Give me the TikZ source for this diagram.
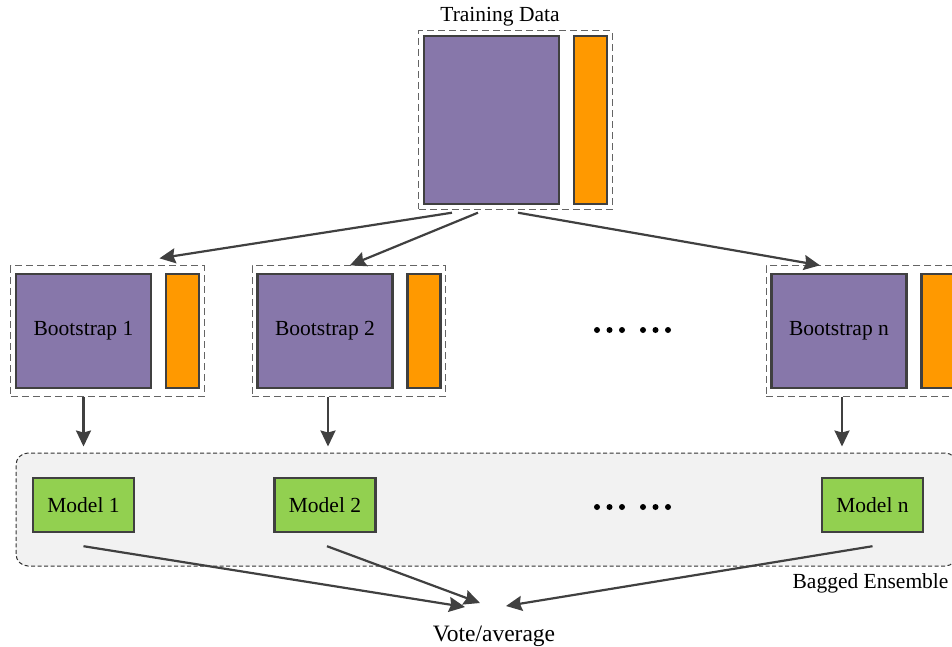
\documentclass[tikz,border=0pt]{standalone}
\usepackage{fontspec}
\setmainfont{Liberation Serif}
\usepackage{xcolor}
\usetikzlibrary{arrows.meta, positioning, fit, calc}
\definecolor{bagpurple}{RGB}{135,119,170}
\definecolor{bagorange}{RGB}{255,153,0}
\definecolor{baggreen}{RGB}{146,208,80}
\definecolor{edgegray}{RGB}{64,64,64}
\definecolor{dashgray}{RGB}{100,100,100}
\definecolor{panelgray}{RGB}{242,242,242}
\tikzstyle{features} = [rectangle, draw=edgegray, line width=2.4pt, fill=bagpurple, inner sep=0pt, minimum width=135pt, font=\fontsize{21.5}{25}\selectfont]
\tikzstyle{target} = [rectangle, draw=edgegray, line width=2.4pt, fill=bagorange, inner sep=0pt, minimum width=33pt]
\tikzstyle{model} = [rectangle, draw=edgegray, line width=2.4pt, fill=baggreen, inner sep=0pt, minimum width=101pt, minimum height=54pt, font=\fontsize{21.5}{25}\selectfont]
\tikzstyle{sample} = [rectangle, draw=dashgray, line width=1pt, dash pattern=on 7pt off 4pt, inner sep=4pt]
\tikzstyle{ensemble} = [rectangle, rounded corners=12pt, draw=black!80, line width=1pt, dash pattern=on 4pt off 2.5pt, fill=panelgray]
\tikzstyle{captext} = [font=\fontsize{21.5}{25}\selectfont]
\tikzstyle{arrow} = [line width=2.2pt, draw=edgegray, -{Stealth[length=16pt, width=15pt, inset=2pt]}]

\begin{document}
\begin{tikzpicture}[x=1pt, y=-1pt]
    \useasboundingbox (0,0) rectangle (952,646);

    % Training data
    \node[features, minimum height=168pt] (tdX) at (491.5,120) {};
    \node[target, minimum height=168pt, right=12.5pt of tdX] (tdY) {};
    \node[sample, fit=(tdX)(tdY)] (tdBox) {};
    \node[captext] (tdTitle) at (500,17) {Training Data};

    % Bootstrap samples
    \node[features, minimum height=114pt] (b1X) at (83.5,331) {Bootstrap 1};
    \node[target, minimum height=114pt, right=12.5pt of b1X] (b1Y) {};
    \node[sample, inner ysep=7pt, fit=(b1X)(b1Y)] (b1Box) {};

    \node[features, minimum height=114pt] (b2X) at (325,331) {Bootstrap 2};
    \node[target, minimum height=114pt, right=12.5pt of b2X] (b2Y) {};
    \node[sample, inner ysep=7pt, fit=(b2X)(b2Y)] (b2Box) {};

    \node[features, minimum height=114pt] (bnX) at (839,331) {Bootstrap n};
    \node[target, minimum height=114pt, right=12.5pt of bnX] (bnY) {};
    \node[sample, inner ysep=7pt, fit=(bnX)(bnY)] (bnBox) {};

    % Ensemble
    \node[ensemble, minimum width=941pt, minimum height=113pt] (ens) at (486.5,509.5) {};
    \node[captext, anchor=east] (ensTitle) at (952,583) {Bagged Ensemble};

    \node[model] (m1) at (83.5,505) {Model 1};
    \node[model] (m2) at (325,505) {Model 2};
    \node[model] (mn) at (872.5,505) {Model n};

    % Dots
    \foreach \dx in {0,12.5,25,46,58.5,71} {
        \fill (597+\dx,330) circle (3pt);
        \fill (597+\dx,507) circle (3pt);
    }

    % Vote
    \node[captext, font=\fontsize{23.5}{27}\selectfont] (vote) at (494,636) {Vote/average};
    \coordinate (vA) at (465,607);
    \coordinate (vB) at (480,603);
    \coordinate (vC) at (506,606);

    % Connections
    \draw[arrow] ([xshift=-63.5pt,yshift=-3pt]tdBox.south) -- ([xshift=52pt,yshift=7pt]b1Box.north);
    \draw[arrow] ([xshift=-37.5pt,yshift=-3pt]tdBox.south) -- ([xshift=1pt]b2Box.north);
    \draw[arrow] ([xshift=2.5pt,yshift=-3pt]tdBox.south) -- ([xshift=-43pt]bnBox.north);

    \draw[arrow, shorten >=6pt] (b1X |- b1Box.south) -- (b1X |- ens.north);
    \draw[arrow, shorten >=6pt] ([xshift=3pt]b2X |- b2Box.south) -- ([xshift=3pt]b2X |- ens.north);
    \draw[arrow, shorten >=6pt] ([xshift=3pt]bnX |- bnBox.south) -- ([xshift=3pt]bnX |- ens.north);

    \draw[arrow] ([yshift=-13pt]m1.south) -- (vA);
    \draw[arrow] ([xshift=2pt,yshift=-13pt]m2.south) -- (vB);
    \draw[arrow] ([yshift=-13pt]mn.south) -- (vC);
\end{tikzpicture}
\end{document}
